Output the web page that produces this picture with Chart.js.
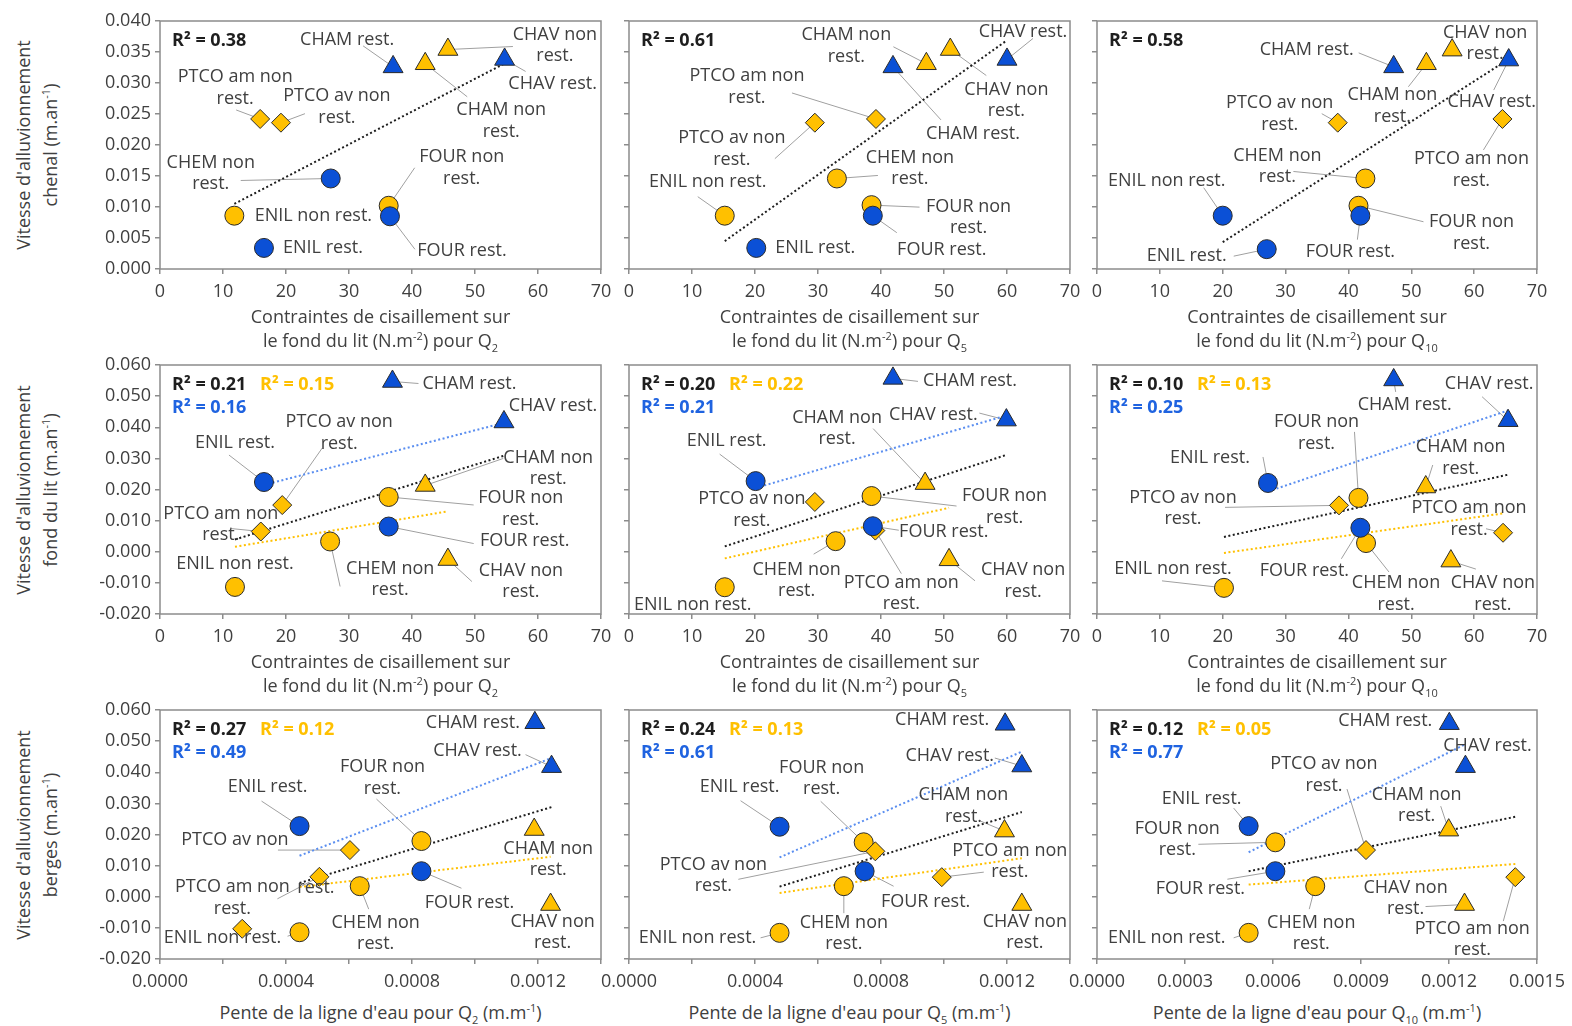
<!DOCTYPE html>
<html><head><meta charset="utf-8">
<script src="https://cdn.jsdelivr.net/npm/chart.js@4.4.0/dist/chart.umd.min.js"></script>
<style>
body{margin:0;background:#fff;width:1572px;height:1026px;overflow:hidden;position:relative;font-family:"Open Sans",sans-serif;color:#404040}
canvas{position:absolute}
.t{position:absolute;font-size:18px;text-align:center;white-space:nowrap;color:#404040}
.t sub,.t sup{font-size:11px;line-height:0}
</style></head><body>
<script>
// ---------------- DATA ----------------
const SITES = ["CHAM rest.","CHAM non rest.","CHAV rest.","CHAV non rest.","ENIL rest.","ENIL non rest.","FOUR rest.","FOUR non rest.","CHEM non rest.","PTCO am non rest.","PTCO av non rest."];
const SHAPES = ["triangle","triangle","triangle","triangle","circle","circle","circle","circle","circle","rectRot","rectRot"];
const STATUS = ["rest","non","rest","non","rest","non","rest","non","non","non","non"];
// colours as shown in row 1 (two points drawn blue there)
const COLOR_R1C1 = ["rest","non","rest","non","rest","non","rest","non","rest","non","non"];
const COLOR_R1C3 = ["rest","non","rest","non","rest","rest","rest","non","non","non","non"];

// Row 1 : channel (x = shear stress)
const X_R1C1 = [37.0, 42.1, 54.7, 45.7, 16.5, 11.8, 36.5, 36.3, 27.1, 15.9, 19.2];
const Y_R1C1 = [0.0326, 0.0331, 0.0338, 0.0354, 0.0034, 0.0086, 0.0085, 0.0102, 0.0146, 0.0242, 0.0236];
const X_R1C2 = [41.9, 47.2, 60.0, 51.0, 20.2, 15.2, 38.7, 38.5, 33.0, 39.2, 29.5];
const Y_R1C2 = [0.0326, 0.0331, 0.0338, 0.0354, 0.0034, 0.0086, 0.0086, 0.0103, 0.0146, 0.0242, 0.0236];
const X_R1C3 = [47.2, 52.4, 65.5, 56.5, 27.0, 20.0, 41.9, 41.6, 42.7, 64.5, 38.3];
const Y_R1C3 = [0.0326, 0.0331, 0.0337, 0.0353, 0.0032, 0.0086, 0.0086, 0.0102, 0.0146, 0.0242, 0.0236];
// Row 2 : bed (x = shear stress)
const X_R2C1 = [36.9, 42.1, 54.6, 45.7, 16.5, 11.9, 36.3, 36.3, 27.0, 16.0, 19.4];
const Y_R2C1 = [0.0547, 0.0213, 0.0417, -0.0025, 0.0224, -0.0113, 0.0081, 0.0176, 0.0033, 0.0065, 0.0150];
const X_R2C2 = [41.9, 47.0, 59.9, 50.8, 20.1, 15.2, 38.7, 38.5, 32.8, 39.1, 29.5];
const Y_R2C2 = [0.0557, 0.0219, 0.0423, -0.0026, 0.0227, -0.0114, 0.0082, 0.0179, 0.0034, 0.0068, 0.0160];
const X_R2C3 = [47.2, 52.3, 65.4, 56.3, 27.2, 20.2, 41.9, 41.6, 42.8, 64.6, 38.5];
const Y_R2C3 = [0.0552, 0.0208, 0.0421, -0.0030, 0.0221, -0.0116, 0.0077, 0.0173, 0.0028, 0.0061, 0.0149];
// Row 3 : banks (x = water surface slope)
const X_R3C1 = [0.001190, 0.001188, 0.001243, 0.001240, 0.000443, 0.000443, 0.000830, 0.000830, 0.000634, 0.000506, 0.000603];
const Y_R3C1 = [0.0559, 0.0216, 0.0418, -0.0025, 0.0227, -0.0114, 0.0082, 0.0179, 0.0034, 0.0064, 0.0150];
const X_R3C1_EXTRA = [0.000261];
const Y_R3C1_EXTRA = [-0.0103];
const X_R3C2 = [0.001194, 0.001192, 0.001247, 0.001247, 0.000478, 0.000478, 0.000748, 0.000745, 0.000682, 0.000993, 0.000782];
const Y_R3C2 = [0.0554, 0.0211, 0.0420, -0.0025, 0.0225, -0.0116, 0.0082, 0.0175, 0.0034, 0.0063, 0.0146];
const X_R3C3 = [0.001201, 0.001199, 0.001256, 0.001253, 0.000517, 0.000517, 0.000608, 0.000608, 0.000744, 0.001426, 0.000917];
const Y_R3C3 = [0.0556, 0.0214, 0.0418, -0.0025, 0.0227, -0.0116, 0.0082, 0.0175, 0.0034, 0.0063, 0.0150];

const R2_ALL  = [["0.38","0.61","0.58"],["0.21","0.20","0.10"],["0.27","0.24","0.12"]];
const R2_NON  = [[null,null,null],["0.15","0.22","0.13"],["0.12","0.13","0.05"]];
const R2_REST = [[null,null,null],["0.16","0.21","0.25"],["0.49","0.61","0.77"]];

const Y_RANGES = [[0, 0.040, 0.005], [-0.020, 0.060, 0.010], [-0.020, 0.060, 0.010]];
const X_RANGES = [[[0,70,10],[0,70,10],[0,70,10]],[[0,70,10],[0,70,10],[0,70,10]],[[0,0.0014,0.0002],[0,0.0014,0.0002],[0,0.0015,0.0003]]];
const Q_LABELS = ["2","5","10"];

// ---------------- LABEL LAYOUT (pixel offsets from the marker) ----------------
// [site, dx, dy, leaderEndX, leaderEndY, lines]
const LAYOUT = {
 "0,0":[[0,-46,-27,-30,-21,1],[1,76,57,42,33,2],[2,48,24,21,12,1],[3,107,-4,65,-3,2],[4,59,0,null,null,1],[5,79,0,null,null,1],[6,72,35,25,33,1],[7,73,-38,26,-38,2],[8,-120,-5,-90,2,2],[9,-25,-31,-24,-9,2],[10,56,-16,24,-9,2]],
 "0,1":[[0,80,67,48,53,1],[1,-80,-18,-33,-17,2],[2,16,-28,26,-21,1],[3,56,51,36,26,2],[4,59,0,null,null,1],[5,-17,-34,-27,-19,1],[6,69,34,24,17,1],[7,97,12,48,2,2],[8,73,-10,41,-3,2],[9,-129,-32,-84,-26,2],[10,-83,26,-40,36,2]],
 "0,2":[[0,-87,-17,-35,-14,1],[1,-34,42,-18,23,2],[2,-17,42,-15,30,1],[3,33,-7,null,null,2],[4,-80,7,-33,7,1],[5,-56,-35,-19,-28,1],[6,-10,36,-3,24,1],[7,113,27,65,16,2],[8,-88,-12,-72,-7,2],[9,-31,51,-19,31,2],[10,-58,-9,-16,-9,2]],
 "1,0":[[0,77,2,26,2,1],[1,123,-17,78,-27,2],[2,49,-16,null,null,1],[3,73,22,24,22,2],[4,-29,-39,-35,-27,1],[5,0,-23,null,null,1],[6,136,14,85,17,1],[7,132,12,85,8,2],[8,60,38,10,45,2],[9,-40,-7,-30,-3,2],[10,57,-72,40,-57,2]],
 "1,1":[[0,77,2,25,3,1],[1,-88,-55,-52,-55,2],[2,-73,-5,-27,-7,1],[3,74,21,26,21,2],[4,-29,-40,-36,-27,1],[5,-32,18,null,null,1],[6,71,6,26,4,1],[7,133,11,85,10,2],[8,-39,39,-22,13,2],[9,26,63,26,43,2],[10,-63,8,null,null,2]],
 "1,2":[[0,11,25,2,12,1],[1,35,-29,7,-22,2],[2,-19,-37,-26,-24,1],[3,42,33,25,8,2],[4,-58,-25,-5,-26,1],[5,-51,-19,-62,-7,1],[6,-56,43,-19,31,1],[7,-42,-65,-4,-66,2],[8,30,51,23,29,2],[9,-34,-14,-17,-4,2],[10,-156,3,-114,2,2]],
 "2,0":[[0,-62,0,null,null,1],[1,14,30,null,null,2],[2,-74,-16,-26,-12,1],[3,2,28,null,null,2],[4,-32,-39,-38,-25,1],[5,-77,6,-12,4,1],[6,48,32,40,17,1],[7,-39,-63,-45,-42,2],[8,16,47,9,23,2],[9,-87,21,-42,22,2],[10,-115,-10,-72,0,0,-34,38]],
 "2,1":[[0,-63,-4,null,null,1],[1,-41,-25,-24,-10,2],[2,-72,-10,-27,-8,1],[3,3,28,null,null,2],[4,-40,-40,-39,-26,1],[5,-82,5,-19,5,1],[6,61,31,29,15,1],[7,-42,-64,-43,-41,2],[8,0,47,0,27,2],[9,68,-16,42,-5,2],[10,-162,24,-137,28,2]],
 "2,2":[[0,-64,-3,null,null,1],[1,-32,-25,-8,-24,2],[2,22,-21,null,null,1],[3,-59,-6,-39,2,2],[4,-47,-27,-15,-18,1],[5,-82,5,-15,5,1],[6,-75,18,-48,8,1],[7,-98,-3,-77,2,2],[8,-4,47,-6,23,2],[9,-43,62,-12,44,2],[10,-42,-75,-19,-61,2]]
};

// ---------------- STYLE / GEOMETRY ----------------
const FONT = '"Open Sans", sans-serif';
const FS = 18;
const TXT = '#404040';
const BLUE = '#0B50D6', YEL = '#FFC000', EDGE = '#2b2b2b';
const AXC = '#8c8c8c';
const COLS = [[160,601],[629,1070],[1097,1537]];
const ROWS = [[21,269],[365,614],[710,959]];
const ML = 80, MT = 18, MR = 48, MB = 40;

const PANELS = [
 {r:0,c:0,x:X_R1C1,y:Y_R1C1,col:COLOR_R1C1},
 {r:0,c:1,x:X_R1C2,y:Y_R1C2,col:STATUS},
 {r:0,c:2,x:X_R1C3,y:Y_R1C3,col:COLOR_R1C3},
 {r:1,c:0,x:X_R2C1,y:Y_R2C1,col:STATUS},
 {r:1,c:1,x:X_R2C2,y:Y_R2C2,col:STATUS},
 {r:1,c:2,x:X_R2C3,y:Y_R2C3,col:STATUS},
 {r:2,c:0,x:X_R3C1,y:Y_R3C1,col:STATUS,ex:X_R3C1_EXTRA,ey:Y_R3C1_EXTRA},
 {r:2,c:1,x:X_R3C2,y:Y_R3C2,col:STATUS},
 {r:2,c:2,x:X_R3C3,y:Y_R3C3,col:STATUS}
];

function fitLine(xs, ys){
  const n = xs.length;
  const mx = xs.reduce((a,b)=>a+b,0)/n, my = ys.reduce((a,b)=>a+b,0)/n;
  let sxy=0,sxx=0;
  for(let i=0;i<n;i++){sxy+=(xs[i]-mx)*(ys[i]-my);sxx+=(xs[i]-mx)**2;}
  const b=sxy/sxx, a=my-b*mx;
  const x0=Math.min(...xs), x1=Math.max(...xs);
  return [{x:x0,y:a+b*x0},{x:x1,y:a+b*x1}];
}
function radius(s){return s==='triangle'?11.5:9.5;}

function trend(data,color){
  return {data, showLine:true, borderColor:color, borderWidth:2, borderDash:[2,2.5], pointRadius:0, fill:false, clip:false};
}

PANELS.forEach(P=>{
  const [pl,pr]=COLS[P.c], [pt,pb]=ROWS[P.r];
  const W = pr-pl+ML+MR, H = pb-pt+MT+MB;
  const cv = document.createElement('canvas');
  cv.width=W; cv.height=H;
  cv.style.left=(pl-ML)+'px'; cv.style.top=(pt-MT)+'px';
  cv.style.width=W+'px'; cv.style.height=H+'px';
  document.body.appendChild(cv);

  const blue=[], yel=[];
  P.x.forEach((xv,i)=>{
    const o={pt:{x:xv,y:P.y[i]},s:SHAPES[i]};
    (P.col[i]==='rest'?blue:yel).push(o);
  });
  if(P.ex) P.ex.forEach((xv,i)=>yel.push({pt:{x:xv,y:P.ey[i]},s:'rectRot'}));
  const mk=(arr,fill)=>({data:arr.map(o=>o.pt),pointStyle:arr.map(o=>o.s),pointRadius:arr.map(o=>radius(o.s)),
     pointHoverRadius:arr.map(o=>radius(o.s)),backgroundColor:fill,borderColor:EDGE,borderWidth:1,showLine:false,clip:false});
  const ds=[mk(blue,BLUE),mk(yel,YEL)];
  ds.push(trend(fitLine(P.x,P.y),'#1e1e1e'));
  if(P.r>0){
    const rx=[],ry=[],nx=[],ny=[];
    P.x.forEach((xv,i)=>{ if(STATUS[i]==='rest'){rx.push(xv);ry.push(P.y[i]);} else {nx.push(xv);ny.push(P.y[i]);} });
    ds.push(trend(fitLine(rx,ry),'#5a8ef0'));
    ds.push(trend(fitLine(nx,ny),'#FFC000'));
  }

  const lay = LAYOUT[P.r+','+P.c];
  const annot={
    id:'annot',
    beforeDatasetsDraw(chart){
      const ctx=chart.ctx,a=chart.chartArea,sx=chart.scales.x,sy=chart.scales.y;
      ctx.save();
      ctx.strokeStyle=AXC;ctx.lineWidth=1.5;
      ctx.strokeRect(a.left,a.top,a.right-a.left,a.bottom-a.top);
      ctx.strokeStyle='#a0a0a0';ctx.lineWidth=1;
      lay.forEach(L=>{
        if(L[3]==null) return;
        const px=sx.getPixelForValue(P.x[L[0]]), py=sy.getPixelForValue(P.y[L[0]]);
        ctx.beginPath();ctx.moveTo(px,py);ctx.lineTo(px+L[3],py+L[4]);ctx.stroke();
      });
      ctx.restore();
    },
    afterDatasetsDraw(chart){
      const ctx=chart.ctx,a=chart.chartArea,sx=chart.scales.x,sy=chart.scales.y;
      ctx.save();
      ctx.font=FS+'px '+FONT;ctx.fillStyle=TXT;ctx.textAlign='center';ctx.textBaseline='middle';
      lay.forEach(L=>{
        const name=SITES[L[0]];
        const px=sx.getPixelForValue(P.x[L[0]]), py=sy.getPixelForValue(P.y[L[0]]);
        let lines;
        if(L[5]===2){const k=name.lastIndexOf(' rest.');lines=[name.slice(0,k),'rest.'];}
        else if(L[5]===0){const k=name.lastIndexOf(' rest.');lines=[name.slice(0,k)];}
        else lines=[name];
        const cx=px+L[1], cy=py+L[2];
        lines.forEach((t,k)=>ctx.fillText(t,cx,cy+(k-(lines.length-1)/2)*21.5));
        if(L[5]===0) ctx.fillText('rest.',px+L[6],py+L[7]);
      });
      ctx.font='bold '+FS+'px '+FONT;ctx.textAlign='left';
      ctx.fillStyle='#1e1e1e';ctx.fillText('R² = '+R2_ALL[P.r][P.c],a.left+12,a.top+20);
      if(R2_NON[P.r][P.c]){ctx.fillStyle='#FFC000';ctx.fillText('R² = '+R2_NON[P.r][P.c],a.left+100,a.top+20);}
      if(R2_REST[P.r][P.c]){ctx.fillStyle='#1F63E0';ctx.fillText('R² = '+R2_REST[P.r][P.c],a.left+12,a.top+43);}
      ctx.restore();
    }
  };

  const [xmin,xmax,xstep]=X_RANGES[P.r][P.c];
  const [ymin,ymax,ystep]=Y_RANGES[P.r];
  const grid={drawOnChartArea:false,drawTicks:true,tickLength:5,tickColor:AXC,lineWidth:1.5};
  new Chart(cv,{
    type:'scatter',
    data:{datasets:ds},
    options:{
      responsive:false,animation:false,devicePixelRatio:1,
      layout:{padding:{left:0,top:MT,right:MR,bottom:0}},
      plugins:{legend:{display:false},tooltip:{enabled:false}},
      events:[],
      scales:{
        x:{type:'linear',min:xmin,max:xmax,
           ticks:{stepSize:xstep,autoSkip:false,maxRotation:0,padding:7,color:TXT,font:{family:FONT,size:FS},
             callback:(v,i)=>{
               if(P.r<2) return String(Math.round(v));
               if(P.c<2) return i%2===0?v.toFixed(4):'';
               return v.toFixed(4);
             }},
           grid:grid,border:{display:false},
           afterFit:s=>{s.height=MB;}},
        y:{type:'linear',min:ymin,max:ymax,
           ticks:{stepSize:ystep,autoSkip:false,padding:4,color:TXT,font:{family:FONT,size:FS},
             callback:(v)=>P.c===0?(Math.abs(v)<1e-12?'0.000':v.toFixed(3)):''},
           grid:grid,border:{display:false},
           afterFit:s=>{s.width=ML;}}
      }
    },
    plugins:[annot]
  });
});

// ---------------- AXIS TITLES (HTML text) ----------------
const YT = ["chenal","fond du lit","berges"];
function addDiv(html,left,top,w,h,extra){
  const d=document.createElement('div');d.className='t';d.innerHTML=html;
  d.style.left=left+'px';d.style.top=top+'px';d.style.width=w+'px';d.style.height=h+'px';
  if(extra) Object.assign(d.style,extra);
  document.body.appendChild(d);
}
ROWS.forEach(([t,b],r)=>{
  const cy=(t+b)/2, w=280, h=54;
  addDiv("Vitesse d'alluvionnement<br>"+YT[r]+" (m.an<sup>-1</sup>)",37-w/2,cy-h/2,w,h,{lineHeight:'27px',transform:'rotate(-90deg)'});
  COLS.forEach(([l,rr],c)=>{
    const cx=(l+rr)/2, w2=400;
    if(r<2){
      addDiv("Contraintes de cisaillement sur<br>le fond du lit (N.m<sup>-2</sup>) pour Q<sub>"+Q_LABELS[c]+"</sub>",cx-w2/2,b+35,w2,50,{lineHeight:'24px'});
    } else {
      addDiv("Pente de la ligne d'eau pour Q<sub>"+Q_LABELS[c]+"</sub> (m.m<sup>-1</sup>)",cx-w2/2,b+40,w2,26,{lineHeight:'26px'});
    }
  });
});
</script>
</body></html>
